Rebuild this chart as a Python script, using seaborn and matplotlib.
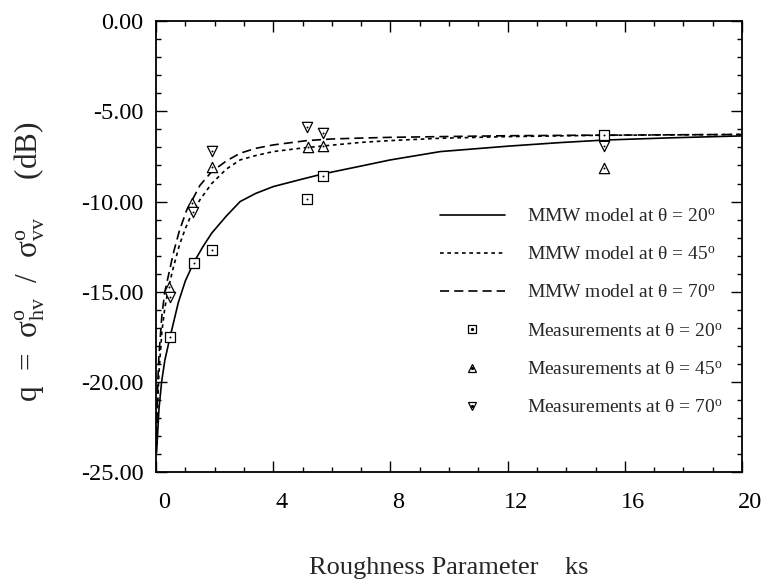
import matplotlib
matplotlib.use("Agg")
import matplotlib.pyplot as plt
import seaborn as sns
import numpy as np
import pandas as pd
from matplotlib.lines import Line2D
from matplotlib.legend_handler import HandlerTuple
from matplotlib.ticker import MultipleLocator, FormatStrFormatter
from matplotlib.transforms import ScaledTranslation

# ---- data ----
m20_x = [0.02, 0.1, 0.19, 0.3, 0.48, 0.76, 1.0, 1.28, 1.6, 1.9, 2.4, 2.87, 3.4, 4.0, 5.0, 5.69, 7.0, 8.0, 9.7, 12.0, 13.8, 15.3, 17.5, 20.0]
m20_y = [-23.9, -21.5, -20.0, -18.8, -17.5, -15.6, -14.4, -13.4, -12.5, -11.75, -10.8, -10.0, -9.55, -9.17, -8.75, -8.47, -8.03, -7.69, -7.23, -6.93, -6.73, -6.59, -6.47, -6.36]

m45_x = [0.02, 0.06, 0.1, 0.2, 0.3, 0.45, 0.6, 0.8, 1.0, 1.24, 1.5, 1.9, 2.4, 2.87, 3.4, 4.0, 5.0, 5.69, 7.0, 8.0, 9.7, 12.0, 15.0, 20.0]
m45_y = [-23.5, -21.0, -19.5, -17.2, -15.9, -14.6, -13.6, -12.4, -11.5, -10.6, -9.9, -9.0, -8.2, -7.69, -7.45, -7.23, -7.03, -6.92, -6.72, -6.62, -6.49, -6.4, -6.33, -6.28]

m70_x = [0.02, 0.06, 0.1, 0.2, 0.3, 0.45, 0.6, 0.8, 1.05, 1.24, 1.5, 1.9, 2.4, 2.87, 3.4, 4.0, 5.15, 6.0, 7.0, 8.0, 9.7, 12.0, 15.0, 20.0]
m70_y = [-23.0, -20.0, -18.5, -16.3, -15.0, -13.9, -12.8, -11.6, -10.46, -9.9, -9.1, -8.34, -7.75, -7.32, -7.05, -6.86, -6.62, -6.53, -6.48, -6.44, -6.4, -6.35, -6.32, -6.28]

sq_x = [0.48, 1.28, 1.9, 5.15, 5.69, 15.29]
sq_y = [-17.5, -13.4, -12.7, -9.87, -8.56, -6.31]
up_x = [0.45, 1.24, 1.9, 5.17, 5.69, 15.29]
up_y = [-14.76, -10.09, -8.06, -6.99, -6.9, -8.15]
dn_x = [0.48, 1.25, 1.9, 5.15, 5.69, 15.29]
dn_y = [-15.3, -10.6, -7.2, -5.88, -6.2, -6.9]

x_ticks = [0, 4, 8, 12, 16, 20]
y_ticks = [0, -5, -10, -15, -20, -25]

labels = ["MMW model at \u03b8 = 20$^{\\rm o}$",
          "MMW model at \u03b8 = 45$^{\\rm o}$",
          "MMW model at \u03b8 = 70$^{\\rm o}$",
          "Measurements at \u03b8 = 20$^{\\rm o}$",
          "Measurements at \u03b8 = 45$^{\\rm o}$",
          "Measurements at \u03b8 = 70$^{\\rm o}$"]

# ---- style ----
sns.set_style("ticks")
plt.rcParams["font.family"] = ["Liberation Serif", "DejaVu Serif"]
plt.rcParams["mathtext.fontset"] = "custom"
plt.rcParams["mathtext.rm"] = "Liberation Serif"
plt.rcParams["mathtext.it"] = "Liberation Serif:italic"
plt.rcParams["mathtext.bf"] = "Liberation Serif:bold"

fig = plt.figure(figsize=(7.63, 5.88), dpi=100)
ax = fig.add_axes([0.2045, 0.197, 0.768, 0.767])

ls20 = "-"
ls45 = (0, (2.2, 2.2))
ls70 = (0, (5.5, 3.0))
lw = 1.2

sns.lineplot(x=m20_x, y=m20_y, ax=ax, color="black", linewidth=lw, linestyle=ls20, sort=True)
sns.lineplot(x=m45_x, y=m45_y, ax=ax, color="black", linewidth=lw, linestyle=ls45, sort=True)
sns.lineplot(x=m70_x, y=m70_y, ax=ax, color="black", linewidth=lw, linestyle=ls70, sort=True)

mk = dict(facecolor="white", edgecolor="black", linewidth=0.9, zorder=3)
sns.scatterplot(x=sq_x, y=sq_y, ax=ax, marker="s", s=42, **mk)
sns.scatterplot(x=up_x, y=up_y, ax=ax, marker="^", s=55, **mk)
sns.scatterplot(x=dn_x, y=dn_y, ax=ax, marker="v", s=55, **mk)
for xs, ys in ((sq_x, sq_y), (up_x, up_y), (dn_x, dn_y)):
    sns.scatterplot(x=xs, y=ys, ax=ax, marker="o", s=2, color="black", linewidth=0, zorder=4)

ax.set_xlim(0, 20)
ax.set_ylim(-25, 0)
ax.set_xticks(x_ticks)
ax.set_yticks(y_ticks)
ax.xaxis.set_minor_locator(MultipleLocator(1))
ax.yaxis.set_minor_locator(MultipleLocator(1))
ax.yaxis.set_major_formatter(FormatStrFormatter("%.2f"))
ax.tick_params(which="both", direction="in", top=True, right=True, colors="black", width=1.0)
ax.tick_params(which="major", length=8, labelsize=17.5)
ax.tick_params(axis="y", which="major", pad=9)
ax.tick_params(axis="x", which="major", pad=14)
ax.tick_params(which="minor", length=3.5)
for s in ax.spines.values():
    s.set_linewidth(1.3)
    s.set_color("black")

shift = ScaledTranslation(8 / 100, 0, fig.dpi_scale_trans)
for lbl in ax.get_xticklabels():
    lbl.set_transform(lbl.get_transform() + shift)

ax.set_xlabel("Roughness Parameter    ks", fontsize=19)
ax.xaxis.set_label_coords(0.5, -0.188)
ax.set_ylabel("q  =  \u03c3$^{\\rm o}_{\\rm hv}$  /  \u03c3$^{\\rm o}_{\\rm vv}$     (dB)", fontsize=22.5)
ax.yaxis.set_label_coords(-0.186, 0.468)

# ---- legend ----
h20 = Line2D([], [], color="black", lw=lw, linestyle=ls20)
h45 = Line2D([], [], color="black", lw=lw, linestyle=ls45)
h70 = Line2D([], [], color="black", lw=lw, linestyle=ls70)
def mh(m, ms):
    outer = Line2D([], [], linestyle="none", marker=m, markersize=ms, markerfacecolor="white",
                   markeredgecolor="black", markeredgewidth=0.9)
    dot = Line2D([], [], linestyle="none", marker="o", markersize=1.3, color="black")
    return (outer, dot)
handles = [h20, h45, h70, mh("s", 5.5), mh("^", 6), mh("v", 6)]
leg = ax.legend(handles, labels, loc="upper left", bbox_to_anchor=(0.471, 0.603),
                frameon=False, fontsize=14, handlelength=3.35, handletextpad=1.13,
                labelspacing=1.06, borderaxespad=0,
                handler_map={tuple: HandlerTuple(ndivide=1, pad=0)})

fig.savefig("out.png", dpi=100)
